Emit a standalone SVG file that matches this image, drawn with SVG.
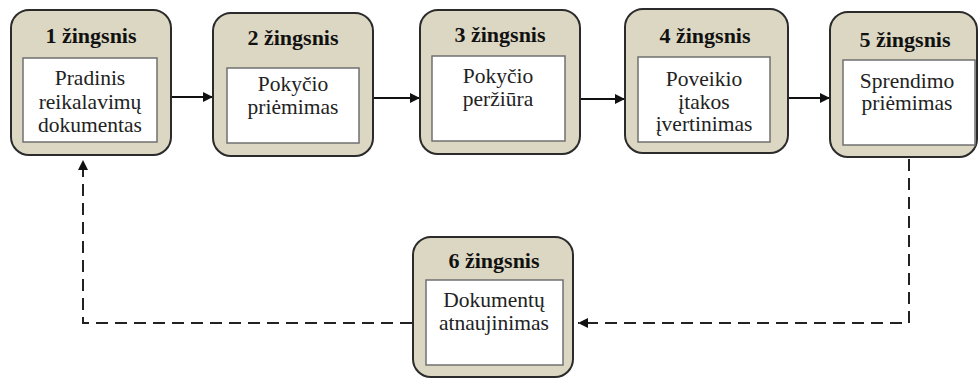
<svg xmlns="http://www.w3.org/2000/svg" width="979" height="379" viewBox="0 0 979 379">
  <style>
    .outer { fill: #dcd7c3; stroke: #2b2b2b; stroke-width: 2; }
    .inner { fill: #ffffff; stroke: #707070; stroke-width: 1.5; }
    .hd { font-family: 'Liberation Serif', serif; font-weight: bold; font-size: 22px; fill: #111; text-anchor: middle; }
    .tx { font-family: 'Liberation Serif', serif; font-size: 21.5px; fill: #222; text-anchor: middle; }
    .flow { fill: none; stroke: #111; stroke-width: 2; }
    .dash { fill: none; stroke: #222; stroke-width: 2; stroke-dasharray: 12 7; }
  </style>
  <defs>
    <marker id="arrow" viewBox="0 0 10 10" refX="10" refY="5" markerWidth="10" markerHeight="10" markerUnits="userSpaceOnUse" orient="auto">
      <path d="M0,0 L10,5 L0,10 z" fill="#111"/>
    </marker>
  </defs>

  <!-- connectors -->
  <g id="connectors">
    <line class="flow" x1="171" y1="97" x2="213" y2="97" marker-end="url(#arrow)"/>
    <line class="flow" x1="373" y1="98" x2="420" y2="98" marker-end="url(#arrow)"/>
    <line class="flow" x1="580" y1="99" x2="625" y2="99" marker-end="url(#arrow)"/>
    <line class="flow" x1="788" y1="98" x2="830" y2="98" marker-end="url(#arrow)"/>
    <polyline class="dash" points="909,159 909,323 578,323" marker-end="url(#arrow)"/>
    <polyline class="dash" points="412,323 83,323 83,160" marker-end="url(#arrow)"/>
  </g>

  <!-- step 1 -->
  <g id="step1">
    <rect class="outer" x="11" y="10" width="160" height="145" rx="18"/>
    <rect class="inner" x="23" y="58" width="134" height="84"/>
    <text class="hd" font-family="Liberation Serif" x="91" y="43">1 žingsnis</text>
    <text class="tx" font-family="Liberation Serif" x="90" y="85">Pradinis</text>
    <text class="tx" font-family="Liberation Serif" x="90" y="108.5">reikalavimų</text>
    <text class="tx" font-family="Liberation Serif" x="90" y="132">dokumentas</text>
  </g>

  <!-- step 2 -->
  <g id="step2">
    <rect class="outer" x="213" y="13" width="160" height="143" rx="18"/>
    <rect class="inner" x="227" y="68" width="132" height="75"/>
    <text class="hd" font-family="Liberation Serif" x="293" y="45">2 žingsnis</text>
    <text class="tx" font-family="Liberation Serif" x="293" y="91">Pokyčio</text>
    <text class="tx" font-family="Liberation Serif" x="293" y="114">priėmimas</text>
  </g>

  <!-- step 3 -->
  <g id="step3">
    <rect class="outer" x="420" y="10" width="160" height="144" rx="18"/>
    <rect class="inner" x="432" y="56" width="133" height="85"/>
    <text class="hd" font-family="Liberation Serif" x="500" y="42">3 žingsnis</text>
    <text class="tx" font-family="Liberation Serif" x="498" y="83">Pokyčio</text>
    <text class="tx" font-family="Liberation Serif" x="498" y="106">peržiūra</text>
  </g>

  <!-- step 4 -->
  <g id="step4">
    <rect class="outer" x="625" y="9" width="163" height="144" rx="18"/>
    <rect class="inner" x="638" y="57" width="132" height="85"/>
    <text class="hd" font-family="Liberation Serif" x="705" y="43">4 žingsnis</text>
    <text class="tx" font-family="Liberation Serif" x="704" y="86">Poveikio</text>
    <text class="tx" font-family="Liberation Serif" x="704" y="108.5">įtakos</text>
    <text class="tx" font-family="Liberation Serif" x="704" y="131">įvertinimas</text>
  </g>

  <!-- step 5 -->
  <g id="step5">
    <rect class="outer" x="830" y="12" width="147" height="145" rx="18"/>
    <rect class="inner" x="843" y="60" width="132" height="85"/>
    <text class="hd" font-family="Liberation Serif" x="905" y="47">5 žingsnis</text>
    <text class="tx" font-family="Liberation Serif" x="907" y="88">Sprendimo</text>
    <text class="tx" font-family="Liberation Serif" x="907" y="110">priėmimas</text>
  </g>

  <!-- step 6 -->
  <g id="step6">
    <rect class="outer" x="413" y="237" width="160" height="140" rx="18"/>
    <rect class="inner" x="426" y="280" width="137" height="85"/>
    <text class="hd" font-family="Liberation Serif" x="494" y="268">6 žingsnis</text>
    <text class="tx" font-family="Liberation Serif" x="494" y="307">Dokumentų</text>
    <text class="tx" font-family="Liberation Serif" x="494" y="330">atnaujinimas</text>
  </g>
</svg>
